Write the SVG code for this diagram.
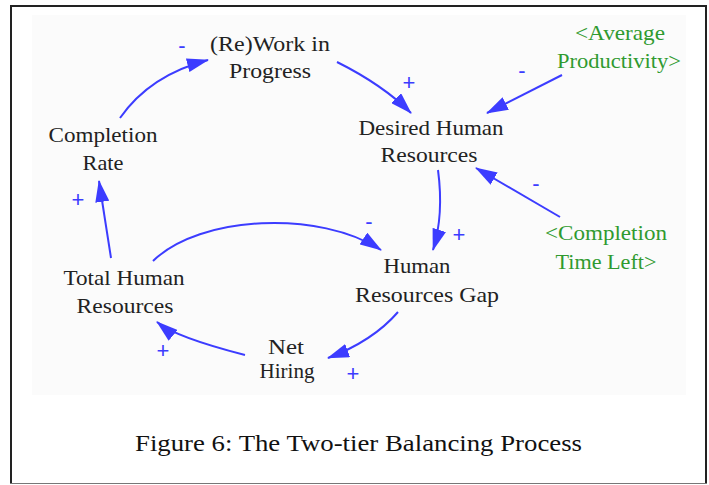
<svg xmlns="http://www.w3.org/2000/svg" width="709" height="485" viewBox="0 0 709 485">
<style>
.n{font-family:"Liberation Serif","Times New Roman",serif;font-size:22px;fill:#222;text-anchor:middle}
.g{font-family:"Liberation Serif","Times New Roman",serif;font-size:22px;fill:#2f9a2f;text-anchor:middle}
.s{font-family:"Liberation Sans",Arial,sans-serif;font-size:22px;fill:#3c3cff;text-anchor:middle}
.c{fill:none;stroke:#3c3cff;stroke-width:2;marker-end:url(#ah)}
.cap{font-family:"Liberation Serif","Times New Roman",serif;font-size:24px;fill:#111;text-anchor:middle}
</style>
<defs>
<marker id="ah" markerUnits="userSpaceOnUse" markerWidth="22" markerHeight="14" refX="21" refY="7" orient="auto" viewBox="0 0 22 14">
<path d="M0,0 L22,7 L0,14 z" fill="#3c3cff"/>
</marker>
</defs>
<rect x="0" y="0" width="709" height="485" fill="#fff"/>
<rect x="32" y="15" width="654" height="380" fill="#fbfbfb"/>
<g id="frame">
<path d="M11,484 V6 H706 V484" fill="none" stroke="#222" stroke-width="2"/>
<line x1="10" y1="483.5" x2="707" y2="483.5" stroke="#777" stroke-width="1"/>
</g>
<g id="connectors">
<path class="c" d="M120,118 Q150,75 208,60"/>
<path class="c" d="M337,62 Q383,85 411,113"/>
<path class="c" d="M562,75 L487,113"/>
<path class="c" d="M560,217 L476,168"/>
<path class="c" d="M438,170 Q444,215 433,250"/>
<path class="c" d="M153,261 C200,215 320,210 381,250"/>
<path class="c" d="M111,258 L99,181"/>
<path class="c" d="M398,312 Q373,341 328,358"/>
<path class="c" d="M245,355 Q175,337 157,322"/>
<text class="s" x="182" y="53">-</text>
<text class="s" x="409" y="90">+</text>
<text class="s" x="522" y="78">-</text>
<text class="s" x="536" y="191">-</text>
<text class="s" x="459" y="242">+</text>
<text class="s" x="369" y="229">-</text>
<text class="s" x="78" y="207">+</text>
<text class="s" x="353" y="381">+</text>
<text class="s" x="163" y="358">+</text>
</g>
<g id="work">
<text class="n" x="270" y="51" textLength="120" lengthAdjust="spacingAndGlyphs">(Re)Work in</text>
<text class="n" x="270" y="78" textLength="82" lengthAdjust="spacingAndGlyphs">Progress</text>
</g>
<g id="completion-rate">
<text class="n" x="103" y="142" textLength="109" lengthAdjust="spacingAndGlyphs">Completion</text>
<text class="n" x="103" y="170" textLength="41" lengthAdjust="spacingAndGlyphs">Rate</text>
</g>
<g id="desired-hr">
<text class="n" x="431" y="135" textLength="145" lengthAdjust="spacingAndGlyphs">Desired Human</text>
<text class="n" x="429" y="162" textLength="97" lengthAdjust="spacingAndGlyphs">Resources</text>
</g>
<g id="avg-productivity">
<text class="g" x="620" y="40" textLength="90" lengthAdjust="spacingAndGlyphs">&lt;Average</text>
<text class="g" x="619" y="68" textLength="124" lengthAdjust="spacingAndGlyphs">Productivity&gt;</text>
</g>
<g id="completion-time-left">
<text class="g" x="606" y="240" textLength="122" lengthAdjust="spacingAndGlyphs">&lt;Completion</text>
<text class="g" x="606" y="269" textLength="101" lengthAdjust="spacingAndGlyphs">Time Left&gt;</text>
</g>
<g id="hr-gap">
<text class="n" x="417" y="273" textLength="67" lengthAdjust="spacingAndGlyphs">Human</text>
<text class="n" x="427" y="302" textLength="144" lengthAdjust="spacingAndGlyphs">Resources Gap</text>
</g>
<g id="total-hr">
<text class="n" x="124" y="285" textLength="121" lengthAdjust="spacingAndGlyphs">Total Human</text>
<text class="n" x="125" y="313" textLength="97" lengthAdjust="spacingAndGlyphs">Resources</text>
</g>
<g id="net-hiring">
<text class="n" x="286" y="354" textLength="36" lengthAdjust="spacingAndGlyphs">Net</text>
<text class="n" x="287" y="378" textLength="55" lengthAdjust="spacingAndGlyphs">Hiring</text>
</g>
<text class="cap" x="358.5" y="451" textLength="447" lengthAdjust="spacingAndGlyphs">Figure 6: The Two-tier Balancing Process</text>
</svg>
